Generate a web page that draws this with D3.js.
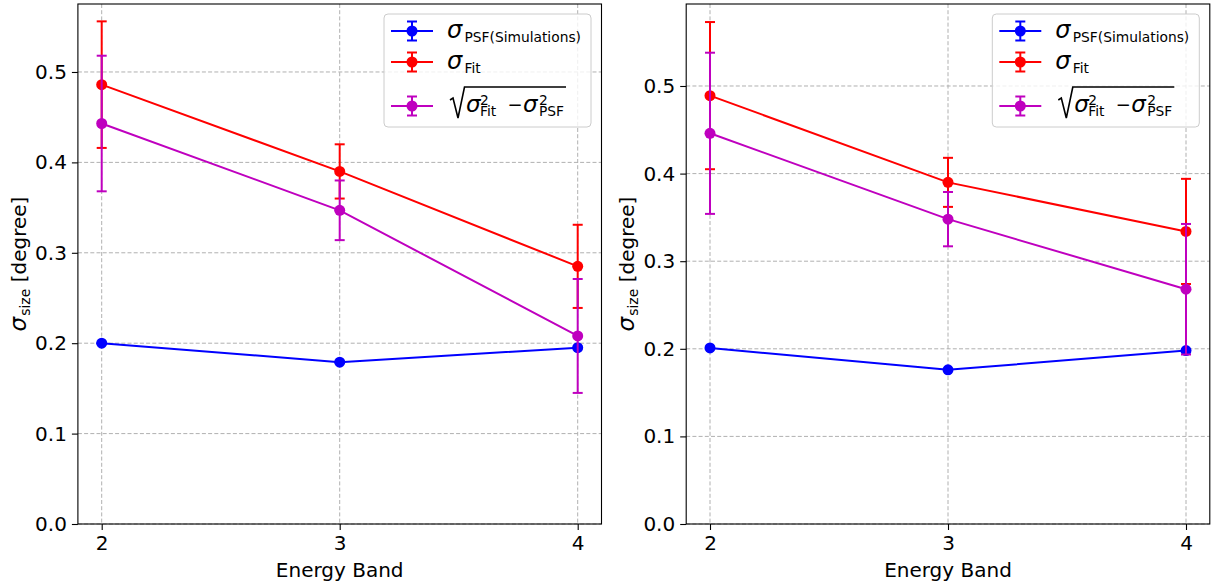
<!DOCTYPE html>
<html>
<head>
<meta charset="utf-8">
<script src="https://cdn.jsdelivr.net/npm/d3@7"></script>
<style>
  html, body { margin: 0; padding: 0; background: #fff; }
  svg { display: block; font-family: "DejaVu Sans", sans-serif; }
</style>
</head>
<body>
<svg id="chart" width="1213" height="587"></svg>
<script>
// ---------- data ----------
const categories = [2, 3, 4];
const xTickLabels = ["2", "3", "4"];
const yTickValues = [0.0, 0.1, 0.2, 0.3, 0.4, 0.5];
const yTickLabels = ["0.0", "0.1", "0.2", "0.3", "0.4", "0.5"];

// left panel
const psfLeft = [0.200, 0.179, 0.195];
const psfErrLeft = [0, 0, 0];
const fitLeft = [0.486, 0.390, 0.285];
const fitErrLeft = [0.070, 0.030, 0.046];
const sqrtLeft = [0.443, 0.347, 0.208];
const sqrtErrLeft = [0.075, 0.033, 0.063];

// right panel
const psfRight = [0.201, 0.176, 0.198];
const psfErrRight = [0, 0, 0];
const fitRight = [0.489, 0.390, 0.334];
const fitErrRight = [0.084, 0.028, 0.060];
const sqrtRight = [0.446, 0.348, 0.268];
const sqrtErrRight = [0.092, 0.031, 0.0745];

const xDomain = [1.9, 4.1];
const yMaxLeft = 0.5752;
const yMaxRight = 0.5936;

const colors = { psf: "#0000ff", fit: "#ff0000", sqrt: "#bf00bf" };

// ---------- drawing ----------
const svg = d3.select("#chart");
const FS = 20;

function drawPanel(left, right, yMax, series, labelX) {
  const top = 4, bottom = 524;
  const x = d3.scaleLinear().domain(xDomain).range([left, right]);
  const y = d3.scaleLinear().domain([0, yMax]).range([bottom, top]);
  const g = svg.append("g");

  // grid
  g.selectAll("line.gy").data(yTickValues).enter().append("line")
    .attr("x1", left).attr("x2", right)
    .attr("y1", d => y(d)).attr("y2", d => y(d))
    .attr("stroke", "#b0b0b0").attr("stroke-width", 1).attr("stroke-dasharray", "4,2.2");
  g.selectAll("line.gx").data(categories).enter().append("line")
    .attr("x1", d => x(d)).attr("x2", d => x(d))
    .attr("y1", top).attr("y2", bottom)
    .attr("stroke", "#b0b0b0").attr("stroke-width", 1).attr("stroke-dasharray", "4,2.2");

  // axes
  const yAxis = d3.axisLeft(y).tickValues(yTickValues)
    .tickFormat((d, i) => yTickLabels[i]).tickSize(6).tickPadding(5);
  const ya = g.append("g").attr("transform", `translate(${left},0)`).call(yAxis);
  const xAxis = d3.axisBottom(x).tickValues(categories)
    .tickFormat((d, i) => xTickLabels[i]).tickSize(6).tickPadding(6);
  const xa = g.append("g").attr("transform", `translate(0,${bottom})`).call(xAxis);
  [ya, xa].forEach(a => {
    a.select(".domain").remove();
    a.selectAll(".tick line").attr("stroke", "#000").attr("stroke-width", 1.1);
    a.selectAll(".tick text").attr("font-size", FS).attr("fill", "#000")
      .attr("font-family", "DejaVu Sans");
  });

  // series
  const lineGen = d3.line().x((d, i) => x(categories[i])).y(d => y(d));
  series.forEach(s => {
    const sg = g.append("g");
    sg.append("path").datum(s.values).attr("d", lineGen)
      .attr("fill", "none").attr("stroke", s.color).attr("stroke-width", 2);
    s.values.forEach((v, i) => {
      const cx = x(categories[i]);
      const e = s.errs[i];
      sg.append("line").attr("x1", cx).attr("x2", cx)
        .attr("y1", y(v - e)).attr("y2", y(v + e))
        .attr("stroke", s.color).attr("stroke-width", 2);
      [v - e, v + e].forEach(c => {
        sg.append("line").attr("x1", cx - 5).attr("x2", cx + 5)
          .attr("y1", y(c)).attr("y2", y(c))
          .attr("stroke", s.color).attr("stroke-width", 2);
      });
      sg.append("circle").attr("cx", cx).attr("cy", y(v)).attr("r", 5.5)
        .attr("fill", s.color);
    });
  });

  // spines
  g.append("rect").attr("x", left).attr("y", top)
    .attr("width", right - left).attr("height", bottom - top)
    .attr("fill", "none").attr("stroke", "#000").attr("stroke-width", 1.1);

  // x label
  g.append("text").attr("x", (left + right) / 2).attr("y", 577)
    .attr("text-anchor", "middle").attr("font-size", FS).text("Energy Band");

  // y label
  const yl = g.append("text")
    .attr("transform", `translate(${labelX},${(top + bottom) / 2}) rotate(-90)`)
    .attr("text-anchor", "middle").attr("font-size", FS);
  yl.append("tspan").attr("font-style", "italic").attr("font-size", 23).text("σ");
  yl.append("tspan").attr("font-size", 14).attr("dy", 4).attr("dx", 1).text("size");
  yl.append("tspan").attr("dy", -4).text(" [degree]");

  // legend
  drawLegend(g, right - 217.5, 14, series);
}

function txt(g, x, yb, s, size, italic) {
  const t = g.append("text").attr("x", x).attr("y", yb).attr("font-size", size).text(s);
  if (italic) t.attr("font-style", "italic");
  return t;
}

function drawLegend(g, lx, ly, series) {
  g.append("rect").attr("x", lx).attr("y", ly).attr("width", 207).attr("height", 113)
    .attr("rx", 4).attr("fill", "#fff").attr("fill-opacity", 0.8)
    .attr("stroke", "#cccccc").attr("stroke-width", 1);
  const rows = [ly + 17, ly + 48, ly + 92];
  series.forEach((s, i) => {
    const cy = rows[i];
    const hx = lx + 28;
    g.append("line").attr("x1", lx + 7).attr("x2", lx + 49).attr("y1", cy).attr("y2", cy)
      .attr("stroke", s.color).attr("stroke-width", 2);
    g.append("line").attr("x1", hx).attr("x2", hx).attr("y1", cy - 9.5).attr("y2", cy + 9.5)
      .attr("stroke", s.color).attr("stroke-width", 2);
    [cy - 9.5, cy + 9.5].forEach(c => g.append("line")
      .attr("x1", hx - 5).attr("x2", hx + 5).attr("y1", c).attr("y2", c)
      .attr("stroke", s.color).attr("stroke-width", 2));
    g.append("circle").attr("cx", hx).attr("cy", cy).attr("r", 5.5).attr("fill", s.color);
  });
  const x0 = lx + 63;
  // row 1
  txt(g, x0, ly + 24, "σ", 24, true);
  txt(g, x0 + 17.5, ly + 27.5, "PSF(Simulations)", 13.8, false);
  // row 2
  txt(g, x0, ly + 55, "σ", 24, true);
  txt(g, x0 + 17.5, ly + 58.5, "Fit", 13.8, false);
  // row 3: sqrt(σ²_Fit − σ²_PSF)
  const b = ly + 97.7;
  g.append("path")
    .attr("d", `M${x0 + 3},${ly + 86} L${x0 + 6},${ly + 84} L${x0 + 11},${ly + 104} L${x0 + 17.5},${ly + 73} L${x0 + 119},${ly + 73}`)
    .attr("fill", "none").attr("stroke", "#000").attr("stroke-width", 1.6);
  txt(g, x0 + 19, b, "σ", 23, true);
  txt(g, x0 + 33, b - 7, "2", 13.8, false);
  txt(g, x0 + 33, b + 4.5, "Fit", 13.8, false);
  txt(g, x0 + 68, b - 0.5, "−", 18, false).attr("text-anchor", "middle");
  txt(g, x0 + 76, b, "σ", 23, true);
  txt(g, x0 + 92, b - 7, "2", 13.8, false);
  txt(g, x0 + 92, b + 4.5, "PSF", 13.8, false);
}

function seriesFor(psf, psfErr, fit, fitErr, sq, sqErr) {
  return [
    { values: psf, errs: psfErr, color: colors.psf },
    { values: fit, errs: fitErr, color: colors.fit },
    { values: sq, errs: sqErr, color: colors.sqrt }
  ];
}

drawPanel(77.9, 601.5, yMaxLeft,
  seriesFor(psfLeft, psfErrLeft, fitLeft, fitErrLeft, sqrtLeft, sqrtErrLeft), 26);
drawPanel(686.2, 1209.8, yMaxRight,
  seriesFor(psfRight, psfErrRight, fitRight, fitErrRight, sqrtRight, sqrtErrRight), 634);
</script>
</body>
</html>
